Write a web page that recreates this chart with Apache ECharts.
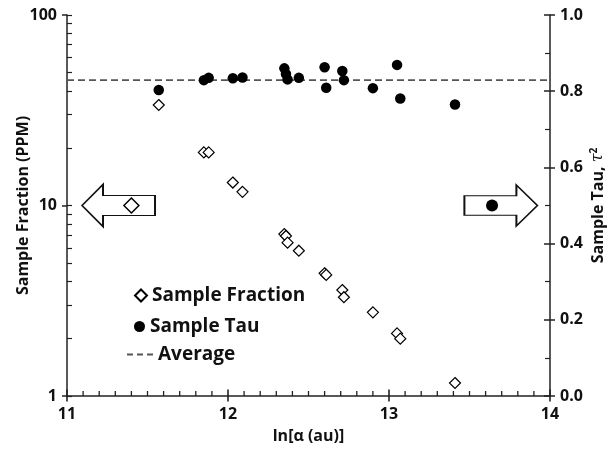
<!DOCTYPE html>
<html>
<head>
<meta charset="utf-8">
<script src="https://cdn.jsdelivr.net/npm/echarts@6/dist/echarts.min.js"></script>
<style>
  html, body { margin: 0; padding: 0; background: #fff; }
  #chart { width: 613px; height: 450px; }
</style>
</head>
<body>
<div id="chart"></div>
<script>
// values
const lnAlpha = [11.57, 11.85, 11.88, 12.03, 12.09, 12.35, 12.36, 12.37, 12.44, 12.60, 12.61, 12.71, 12.72, 12.90, 13.05, 13.07, 13.41];
const sampleFraction = [33.7, 19.0, 19.0, 13.2, 11.8, 7.08, 6.92, 6.38, 5.79, 4.41, 4.32, 3.60, 3.30, 2.75, 2.13, 2.00, 1.17];
const sampleTau = [0.803, 0.829, 0.835, 0.834, 0.836, 0.860, 0.845, 0.831, 0.835, 0.863, 0.809, 0.853, 0.829, 0.808, 0.869, 0.781, 0.765];
const averageTau = 0.829;
const leftTicks = [1, 2, 3, 4, 5, 6, 7, 8, 9, 10, 20, 30, 40, 50, 60, 70, 80, 90, 100];
const xMajorTicks = [11, 12, 13, 14];
const xMinorTicks = [
  11.1, 11.2, 11.3, 11.4, 11.5, 11.6, 11.7, 11.8, 11.9,
  12.1, 12.2, 12.3, 12.4, 12.5, 12.6, 12.7, 12.8, 12.9,
  13.1, 13.2, 13.3, 13.4, 13.5, 13.6, 13.7, 13.8, 13.9
];

// arrow markers that point to each axis
const leftArrowAt = [11.32, 10];
const rightArrowAt = [13.695, 0.5];
const fractionKeyAt = [11.40, 10];
const tauKeyAt = [13.64, 0.5];

const FONT = 'Open Sans';
const INK = '#111';
const AXIS = '#222';

const leftArrow = 'path://M0,21L21,0L21,11L73,11L73,31L21,31L21,42Z';
const rightArrow = 'path://M0,11L52,11L52,0L73,21L52,42L52,31L0,31Z';
const dashIcon = 'path://M0,0h6v2h-6zM10,0h6v2h-6zM20,0h6v2h-6z';

const chart = echarts.init(document.getElementById('chart'));

const labelStyle = { color: INK, fontFamily: FONT, fontWeight: 'bold', fontSize: 16 };
const nameStyle = { color: INK, fontFamily: FONT, fontWeight: 'bold', fontSize: 16 };
const legendText = { color: INK, fontFamily: FONT, fontWeight: 'bold', fontSize: 19 };

const option = {
  animation: false,
  grid: { left: 67, right: 63, top: 15, bottom: 54, outerBoundsMode: 'none', containLabel: false },
  xAxis: [
    {
      type: 'value', min: 11, max: 14, interval: 1,
      name: 'ln[α (au)]', nameLocation: 'middle', nameGap: 32, nameTextStyle: nameStyle,
      axisLine: { show: true, onZero: false, lineStyle: { color: AXIS, width: 1.5 } },
      axisTick: { show: false },
      axisLabel: Object.assign({ margin: 10 }, labelStyle),
      splitLine: { show: false }
    }
  ],
  yAxis: [
    {
      type: 'log', min: 1, max: 100, position: 'left',
      name: 'Sample Fraction (PPM)', nameLocation: 'middle', nameGap: 36, nameMoveOverlap: false,
      nameTextStyle: nameStyle,
      axisLine: { show: true, onZero: false, lineStyle: { color: AXIS, width: 1.5 } },
      axisTick: { show: true, inside: true, length: 5, customValues: leftTicks, lineStyle: { color: AXIS, width: 1.2 } },
      axisLabel: Object.assign({ margin: 10 }, labelStyle),
      splitLine: { show: false }
    },
    {
      type: 'value', min: 0, max: 1, interval: 0.2, position: 'right',
      name: '{n|Sample Tau, }{t|τ}{s|2}', nameLocation: 'middle', nameGap: 39, nameMoveOverlap: false,
      nameTextStyle: {
        rich: {
          n: nameStyle,
          t: Object.assign({}, nameStyle, { fontStyle: 'italic', fontFamily: 'DejaVu Serif', fontWeight: 'normal' }),
          s: Object.assign({}, nameStyle, { fontSize: 10, verticalAlign: 'top', padding: [0, 0, 8, 0] })
        }
      },
      axisLine: { show: true, onZero: false, lineStyle: { color: AXIS, width: 1.5 } },
      axisTick: { show: true, inside: true, length: 6, lineStyle: { color: AXIS, width: 1.5 } },
      minorTick: { show: true, splitNumber: 2, length: 5, lineStyle: { color: AXIS, width: 1.2 } },
      axisLabel: Object.assign({ margin: 10, formatter: v => v.toFixed(1) }, labelStyle),
      splitLine: { show: false }
    },
    {
      type: 'log', min: 1, max: 100, position: 'left',
      axisLine: { show: false, onZero: false },
      axisTick: { show: true, inside: false, length: 5, lineStyle: { color: AXIS, width: 1.5 } },
      axisLabel: { show: false },
      splitLine: { show: false }
    },
    {
      type: 'value', min: 0, max: 1, interval: 0.2, position: 'right',
      axisLine: { show: false, onZero: false },
      axisTick: { show: true, inside: false, length: 5, lineStyle: { color: AXIS, width: 1.5 } },
      axisLabel: { show: false },
      splitLine: { show: false }
    }
  ],
  legend: [
    {
      data: ['Sample Fraction'], left: 129, top: 281,
      itemWidth: 12, itemHeight: 12, itemGap: 6,
      textStyle: legendText, selectedMode: false
    },
    {
      data: ['Sample Tau'], left: 129, top: 312,
      itemWidth: 11, itemHeight: 11,
      textStyle: legendText, selectedMode: false
    },
    {
      data: [{ name: 'Average', icon: dashIcon }], left: 122, top: 340,
      itemWidth: 26, itemHeight: 2, itemGap: 4,
      textStyle: legendText, selectedMode: false
    }
  ],
  series: [
    {
      name: 'Average', type: 'line', xAxisIndex: 0, yAxisIndex: 1,
      data: [[11, averageTau], [14, averageTau]],
      symbol: 'none', silent: true, z: 1,
      lineStyle: { color: '#555', width: 1.6, type: [7, 4] },
      itemStyle: { color: '#555' }
    },
    {
      name: 'Sample Fraction', type: 'scatter', xAxisIndex: 0, yAxisIndex: 0,
      data: lnAlpha.map((x, i) => [x, sampleFraction[i]]),
      symbol: 'diamond', symbolSize: 11, z: 3,
      itemStyle: { color: '#fff', borderColor: '#000', borderWidth: 1.2, opacity: 1 }
    },
    {
      name: 'Sample Tau', type: 'scatter', xAxisIndex: 0, yAxisIndex: 1,
      data: lnAlpha.map((x, i) => [x, sampleTau[i]]),
      symbol: 'circle', symbolSize: 10.5, z: 4,
      itemStyle: { color: '#000', opacity: 1 }
    },
    {
      name: 'leftArrow', type: 'scatter', xAxisIndex: 0, yAxisIndex: 0, silent: true, z: 2,
      data: [leftArrowAt], symbol: leftArrow, symbolSize: [73, 42],
      itemStyle: { color: '#fff', borderColor: '#111', borderWidth: 1.5, opacity: 1 }
    },
    {
      name: 'rightArrow', type: 'scatter', xAxisIndex: 0, yAxisIndex: 1, silent: true, z: 2,
      data: [rightArrowAt], symbol: rightArrow, symbolSize: [73, 41],
      itemStyle: { color: '#fff', borderColor: '#111', borderWidth: 1.5, opacity: 1 }
    },
    {
      name: 'fractionKey', type: 'scatter', xAxisIndex: 0, yAxisIndex: 0, silent: true, z: 5,
      data: [fractionKeyAt], symbol: 'diamond', symbolSize: 15,
      itemStyle: { color: '#fff', borderColor: '#000', borderWidth: 1.5, opacity: 1 }
    },
    {
      name: 'tauKey', type: 'scatter', xAxisIndex: 0, yAxisIndex: 1, silent: true, z: 5,
      data: [tauKeyAt], symbol: 'circle', symbolSize: 12,
      itemStyle: { color: '#000', opacity: 1 }
    },
    // x-axis tick marks, placed on the bottom edge through the axis scales
    {
      name: 'xMinorTicks', type: 'scatter', xAxisIndex: 0, yAxisIndex: 1, silent: true, clip: false, z: 10,
      data: xMinorTicks.map(v => [v, 0]),
      symbol: 'rect', symbolSize: [1.3, 5], symbolOffset: [0, -2.5],
      itemStyle: { color: AXIS, opacity: 1 }
    },
    {
      name: 'xMajorTicks', type: 'scatter', xAxisIndex: 0, yAxisIndex: 1, silent: true, clip: false, z: 10,
      data: xMajorTicks.map(v => [v, 0]),
      symbol: 'rect', symbolSize: [1.6, 12], symbolOffset: [0, -0.5],
      itemStyle: { color: AXIS, opacity: 1 }
    },
    { name: 'ticksLeft', type: 'scatter', xAxisIndex: 0, yAxisIndex: 2, data: [], silent: true },
    { name: 'ticksRight', type: 'scatter', xAxisIndex: 0, yAxisIndex: 3, data: [], silent: true }
  ]
};

chart.setOption(option);
</script>
</body>
</html>
